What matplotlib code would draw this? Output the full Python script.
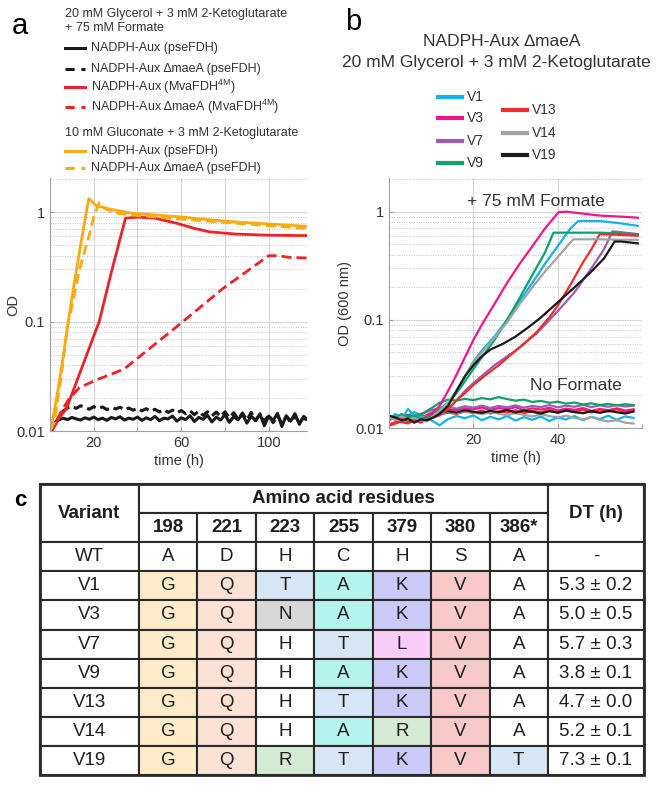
import matplotlib
matplotlib.use("Agg")
import matplotlib.pyplot as plt
import numpy as np
from matplotlib.lines import Line2D
from matplotlib.patches import Rectangle
from matplotlib.ticker import NullFormatter, LogLocator

plt.rcParams['font.family'] = ['Liberation Sans', 'DejaVu Sans']
plt.rcParams['mathtext.fontset'] = 'custom'
plt.rcParams['mathtext.rm'] = 'Liberation Sans'

W, H = 666, 785

# ---------------- panel a data (time h, OD) ----------------
a_orange_t = [0, 1, 3, 5, 8, 11, 14, 17.7, 21, 27, 37, 58, 82, 100, 118]
a_orange = [0.010, 0.012, 0.02, 0.035, 0.09, 0.22, 0.5, 1.33, 1.15, 1.07, 0.98, 0.91, 0.82, 0.78, 0.74]

a_orange_d_t = [0, 2, 5, 8, 11, 13.5, 16, 18, 20, 22.5, 25, 30, 40, 58, 82, 100, 118]
a_orange_d = [0.010, 0.012, 0.03, 0.09, 0.17, 0.3, 0.45, 0.62, 0.9, 1.22, 1.08, 0.98, 0.93, 0.87, 0.8, 0.75, 0.71]

a_red_t = [0, 2, 4, 7.5, 15, 22.5, 28, 34.5, 40, 48, 58, 66, 73, 85, 100, 118]
a_red = [0.0095, 0.011, 0.013, 0.016, 0.04, 0.1, 0.28, 0.88, 0.9, 0.88, 0.79, 0.71, 0.66, 0.63, 0.615, 0.61]

a_red_d_t = [0, 2, 5, 9, 13.5, 22.5, 28, 34, 58, 79, 100, 104, 110, 118]
a_red_d = [0.0095, 0.011, 0.015, 0.02, 0.025, 0.03, 0.033, 0.037, 0.09, 0.2, 0.4, 0.4, 0.385, 0.38]

a_black_t = np.arange(2, 119, 2)
a_black = [0.0118, 0.0126, 0.0131, 0.0127, 0.0133, 0.0129, 0.0126, 0.0132, 0.0128, 0.0134,
           0.0127, 0.0131, 0.0125, 0.0133, 0.0129, 0.0135, 0.0126, 0.0131, 0.0128, 0.0134,
           0.0125, 0.0132, 0.0127, 0.0136, 0.0124, 0.0131, 0.0129, 0.0137, 0.0123, 0.0132,
           0.0127, 0.0138, 0.0122, 0.0133, 0.0128, 0.0139, 0.0121, 0.0134, 0.0126, 0.0141,
           0.0120, 0.0135, 0.0127, 0.0142, 0.0118, 0.0136, 0.0125, 0.0143, 0.0112, 0.0137,
           0.0124, 0.0145, 0.0110, 0.0138, 0.0123, 0.0144, 0.0115, 0.0136, 0.0126]
a_black_d = [0.0112, 0.0135, 0.0152, 0.0163, 0.0168, 0.0161, 0.0170, 0.0164, 0.0158, 0.0167,
             0.0160, 0.0166, 0.0157, 0.0164, 0.0159, 0.0165, 0.0156, 0.0162, 0.0155, 0.0161,
             0.0153, 0.0160, 0.0151, 0.0158, 0.0149, 0.0157, 0.0148, 0.0155, 0.0146, 0.0154,
             0.0144, 0.0153, 0.0141, 0.0152, 0.0139, 0.0150, 0.0137, 0.0149, 0.0135, 0.0150,
             0.0132, 0.0147, 0.0128, 0.0146, 0.0126, 0.0148, 0.0124, 0.0143, 0.0122, 0.0141,
             0.0119, 0.0139, 0.0117, 0.0136, 0.0120, 0.0138, 0.0118, 0.0134, 0.0121]

# ---------------- panel b data ----------------
b_names = ["V1", "V3", "V7", "V9", "V13", "V14", "V19"]
b_colors = ["#12b4ea", "#f0168c", "#9a5fb0", "#0aa468", "#f52a2a", "#a3a3a3", "#1a1a1a"]

early_t = [0, 1.5, 3, 4.5, 6, 7.5, 9, 10.5]
b_form_t = {
    "V1": early_t + [12, 14, 16, 18, 20, 22, 25, 28, 31, 34, 37, 40, 43, 44.9, 50, 55, 59],
    "V3": early_t + [12, 14, 16, 18, 20, 22, 25, 28, 31, 34, 37, 40.2, 42, 45, 50, 55, 59],
    "V7": early_t + [12, 14, 16, 18, 20, 25, 30, 35, 40, 44, 48, 51, 53, 56, 59],
    "V9": early_t + [12, 14, 16, 18, 20, 22, 25, 28, 31, 34, 37, 39, 45, 50, 55, 59],
    "V13": early_t + [12, 14, 16, 18, 20, 23, 26, 29, 32, 35, 38, 40, 43, 46, 48, 50, 55, 59],
    "V14": early_t + [12, 14, 16, 18, 20, 22, 25, 28, 31, 34, 37, 40, 43.7, 50, 55, 59],
    "V19": early_t + [12, 14, 16, 18, 20, 22, 24, 27, 30, 33, 36, 40, 44, 48, 51, 53.5, 55, 59],
}
b_form = {
    "V1": [0.012, 0.0135, 0.012, 0.015, 0.013, 0.0125, 0.012, 0.013,
           0.0145, 0.017, 0.022, 0.03, 0.041, 0.052, 0.07, 0.1, 0.15, 0.22, 0.33, 0.48, 0.7, 0.82, 0.82, 0.78, 0.74],
    "V3": [0.012, 0.0125, 0.012, 0.013, 0.0125, 0.012, 0.0125, 0.014,
           0.016, 0.022, 0.031, 0.045, 0.065, 0.09, 0.14, 0.22, 0.33, 0.48, 0.7, 0.99, 1.0, 0.97, 0.92, 0.9, 0.88],
    "V7": [0.0125, 0.012, 0.013, 0.0125, 0.012, 0.0118, 0.0122, 0.0125,
           0.013, 0.015, 0.018, 0.022, 0.026, 0.038, 0.052, 0.075, 0.12, 0.18, 0.3, 0.45, 0.66, 0.64, 0.62],
    "V9": [0.013, 0.012, 0.0135, 0.0125, 0.013, 0.012, 0.0125, 0.013,
           0.015, 0.017, 0.021, 0.027, 0.035, 0.045, 0.065, 0.1, 0.16, 0.26, 0.42, 0.64, 0.64, 0.64, 0.63, 0.62],
    "V13": [0.0105, 0.011, 0.0115, 0.011, 0.0118, 0.0112, 0.012, 0.0125,
            0.0135, 0.015, 0.018, 0.021, 0.025, 0.031, 0.038, 0.048, 0.06, 0.077, 0.105, 0.135, 0.21, 0.34, 0.45, 0.62, 0.61, 0.6],
    "V14": [0.0125, 0.012, 0.0128, 0.012, 0.0124, 0.0118, 0.0115, 0.013,
            0.0145, 0.017, 0.022, 0.03, 0.04, 0.05, 0.068, 0.095, 0.14, 0.2, 0.28, 0.38, 0.556, 0.556, 0.55, 0.55],
    "V19": [0.013, 0.0125, 0.0118, 0.0122, 0.0112, 0.012, 0.0118, 0.0125,
            0.0135, 0.016, 0.022, 0.03, 0.038, 0.046, 0.053, 0.06, 0.07, 0.085, 0.105, 0.145, 0.2, 0.28, 0.37, 0.53, 0.53, 0.51],
}

# no formate controls, every 2 h
nf_t = np.arange(0, 60, 2)
b_noform = {
    "V9": [0.0125, 0.0122, 0.0131, 0.0128, 0.0136, 0.0152, 0.0171, 0.0183, 0.0179, 0.0186,
           0.0181, 0.0189, 0.0184, 0.0193, 0.0185, 0.0179, 0.0183, 0.0174, 0.0178, 0.0171,
           0.0175, 0.0168, 0.0172, 0.0165, 0.0169, 0.0163, 0.0167, 0.0162, 0.0166, 0.0163],
    "V3": [0.0121, 0.0128, 0.0124, 0.0131, 0.0127, 0.0138, 0.0143, 0.0149, 0.0146, 0.0152,
           0.0148, 0.0155, 0.0147, 0.0153, 0.0149, 0.0156, 0.0146, 0.0152, 0.0148, 0.0154,
           0.0145, 0.0151, 0.0147, 0.0153, 0.0144, 0.0150, 0.0146, 0.0152, 0.0145, 0.0149],
    "V7": [0.0126, 0.0121, 0.0133, 0.0129, 0.0137, 0.0146, 0.0152, 0.0158, 0.0151, 0.0159,
           0.0154, 0.0161, 0.0153, 0.0160, 0.0155, 0.0162, 0.0154, 0.0160, 0.0156, 0.0163,
           0.0155, 0.0161, 0.0157, 0.0164, 0.0156, 0.0162, 0.0157, 0.0163, 0.0158, 0.0161],
    "V13": [0.0108, 0.0115, 0.0112, 0.0121, 0.0118, 0.0127, 0.0133, 0.0139, 0.0135, 0.0142,
            0.0138, 0.0145, 0.0136, 0.0143, 0.0139, 0.0146, 0.0137, 0.0144, 0.0140, 0.0147,
            0.0138, 0.0145, 0.0141, 0.0148, 0.0139, 0.0146, 0.0142, 0.0149, 0.0140, 0.0146],
    "V19": [0.0128, 0.0123, 0.0119, 0.0126, 0.0122, 0.0131, 0.0137, 0.0143, 0.0139, 0.0146,
            0.0141, 0.0138, 0.0144, 0.0140, 0.0147, 0.0139, 0.0145, 0.0141, 0.0136, 0.0143,
            0.0139, 0.0145, 0.0140, 0.0137, 0.0143, 0.0138, 0.0144, 0.0140, 0.0136, 0.0142],
    "V1": [0.0124, 0.0132, 0.0127, 0.0140, 0.0129, 0.0118, 0.0106, 0.0121, 0.0129, 0.0123,
           0.0131, 0.0118, 0.0127, 0.0120, 0.0129, 0.0117, 0.0126, 0.0119, 0.0128, 0.0116,
           0.0125, 0.0120, 0.0129, 0.0118, 0.0127, 0.0121, 0.0130, 0.0119, 0.0128, 0.0124],
    "V14": [0.0119, 0.0124, 0.0121, 0.0128, 0.0125, 0.0131, 0.0136, 0.0141, 0.0137, 0.0143,
            0.0139, 0.0134, 0.0140, 0.0136, 0.0131, 0.0137, 0.0132, 0.0128, 0.0134, 0.0129,
            0.0125, 0.0130, 0.0124, 0.0120, 0.0126, 0.0119, 0.0115, 0.0118, 0.0112, 0.0110],
}

# ---------------- table data ----------------
positions = ["198", "221", "223", "255", "379", "380", "386*"]
variants = ["WT", "V1", "V3", "V7", "V9", "V13", "V14", "V19"]
residues = ["ADHCHSA", "GQTAKVA", "GQNAKVA", "GQHTLVA", "GQHAKVA", "GQHTKVA", "GQHARVA", "GQRTKVT"]
doubling = ["-", "5.3 ± 0.2", "5.0 ± 0.5", "5.7 ± 0.3", "3.8 ± 0.1", "4.7 ± 0.0", "5.2 ± 0.1", "7.3 ± 0.1"]
cell_colors = [
    {"G": "#fdebc9"},
    {"Q": "#fce1d5"},
    {"T": "#d7e6f4", "N": "#d8d8d8", "R": "#d5ead3"},
    {"A": "#b5f3ef", "T": "#d7e6f4"},
    {"K": "#cbcaf6", "L": "#f8cdf7", "R": "#d5ead3"},
    {"V": "#f8c9c9"},
    {"T": "#d7e6f4"},
]


def fx(x):
    return x / W


def fy(y):
    return 1 - y / H


fig = plt.figure(figsize=(W / 100, H / 100), dpi=100)


def style_log_axes(ax, xmax, xmajor, xlabels):
    ax.set_yscale("log")
    ax.set_ylim(0.01, 2.05)
    ax.set_xlim(0, xmax)
    ax.set_xticks(xmajor)
    ax.set_xticklabels(xlabels)
    ax.set_yticks([0.01, 0.1, 1])
    ax.set_yticklabels(["0.01", "0.1", "1"])
    ax.yaxis.set_minor_locator(LogLocator(base=10, subs=np.arange(2, 10)))
    ax.yaxis.set_minor_formatter(NullFormatter())
    ax.grid(True, which="major", color="#d6d6d6", lw=0.8, ls="-")
    ax.grid(True, which="minor", axis="y", color="#c4c4c4", lw=0.7, ls=(0, (1, 1.5)))
    ax.set_axisbelow(True)
    for s in ["top", "right"]:
        ax.spines[s].set_visible(False)
    for s in ["left", "bottom"]:
        ax.spines[s].set_color("#a0a0a0")
        ax.spines[s].set_linewidth(0.8)
    ax.tick_params(which="both", direction="in", color="#a0a0a0", labelsize=10.5,
                   labelcolor="#333333", length=3)
    ax.tick_params(which="minor", length=0)


# ---------------- panel a ----------------
ax_a = fig.add_axes([fx(50), fy(431), (307 - 50) / W, (431 - 178) / H])
ax_a.plot(a_black_t, a_black, color="#1a1a1a", lw=2.2)
ax_a.plot(a_black_t, a_black_d, color="#1a1a1a", lw=2.2, dashes=(3.2, 1.6))
ax_a.plot(a_red_d_t, a_red_d, color="#ee2228", lw=2, dashes=(3.6, 1.8))
ax_a.plot(a_red_t, a_red, color="#ee2228", lw=2)
ax_a.plot(a_orange_t, a_orange, color="#fbaa12", lw=2)
ax_a.plot(a_orange_d_t, a_orange_d, color="#fbaa12", lw=2, dashes=(3.6, 1.8))
style_log_axes(ax_a, 117.5, [20, 40, 60, 80, 100], ["20", "", "60", "", "100"])
ax_a.set_xlabel("time (h)", fontsize=10.5, color="#333333", labelpad=3)
ax_a.set_ylabel("OD", fontsize=10.5, color="#333333")
ax_a.yaxis.set_label_coords((20 - 50) / 257, 0.5)

# legend of panel a drawn by hand
leg_fs = 9


def leg_entry(x0, x1, xt, y, color, dashed, label, fs, lw=2.2):
    kw = dict(dashes=(3.0, 2.2)) if dashed else {}
    fig.add_artist(Line2D([fx(x0), fx(x1)], [fy(y), fy(y)], transform=fig.transFigure,
                          color=color, lw=lw, **kw))
    fig.text(fx(xt), fy(y), label, fontsize=fs, color="#333333", va="center", ha="left")


fig.text(fx(65), fy(14), "20 mM Glycerol + 3 mM 2-Ketoglutarate", fontsize=leg_fs, color="#333333", va="center")
fig.text(fx(65), fy(28), "+ 75 mM Formate", fontsize=leg_fs, color="#333333", va="center")
leg_entry(65, 85, 91, 48, "#1a1a1a", False, "NADPH-Aux (pseFDH)", leg_fs)
leg_entry(65, 85, 91, 69, "#1a1a1a", True, "NADPH-Aux ∆maeA (pseFDH)", leg_fs)
leg_entry(65, 85, 91, 87, "#ee2228", False, r"NADPH-Aux (MvaFDH$^{\mathrm{4M}}$)", leg_fs)
leg_entry(65, 85, 91, 107, "#ee2228", True, r"NADPH-Aux ∆maeA (MvaFDH$^{\mathrm{4M}}$)", leg_fs)
fig.text(fx(65), fy(133), "10 mM Gluconate + 3 mM 2-Ketoglutarate", fontsize=leg_fs, color="#333333", va="center")
leg_entry(65, 85, 91, 151, "#fbaa12", False, "NADPH-Aux (pseFDH)", leg_fs)
leg_entry(65, 85, 91, 168, "#fbaa12", True, "NADPH-Aux ∆maeA (pseFDH)", leg_fs)

fig.text(fx(20), fy(26), "a", fontsize=21, ha="center", va="center")

# ---------------- panel b ----------------
ax_b = fig.add_axes([fx(389), fy(428), (642 - 389) / W, (428 - 178) / H])
for name, col in zip(b_names, b_colors):
    ax_b.plot(nf_t, b_noform[name], color=col, lw=1.6)
for name, col in zip(b_names, b_colors):
    ax_b.plot(b_form_t[name], b_form[name], color=col, lw=1.6)
style_log_axes(ax_b, 60, [20, 40, 60], ["20", "40", ""])
ax_b.set_xlabel("time (h)", fontsize=10.5, color="#333333", labelpad=3)
ax_b.set_ylabel("OD (600 nm)", fontsize=10.5, color="#333333")
ax_b.yaxis.set_label_coords((352 - 389) / 253, 0.5)

fig.text(fx(467), fy(201), "+ 75 mM Formate", fontsize=12.5, color="#333333", va="center")
fig.text(fx(530), fy(386), "No Formate", fontsize=12.5, color="#333333", va="center")

fig.text(fx(353), fy(22), "b", fontsize=21, ha="center", va="center")
fig.text(fx(502), fy(42), "NADPH-Aux ∆maeA", fontsize=12.5, color="#333333", ha="center", va="center")
fig.text(fx(496), fy(63), "20 mM Glycerol + 3 mM 2-Ketoglutarate", fontsize=12.5, color="#333333",
         ha="center", va="center")

b_leg_y = {"V1": 97, "V3": 118, "V7": 141, "V9": 163, "V13": 110, "V14": 133, "V19": 155}
for name, col in zip(b_names, b_colors):
    if name in ("V1", "V3", "V7", "V9"):
        leg_entry(438, 462, 467, b_leg_y[name], col, False, name, 10, lw=3)
    else:
        leg_entry(503, 527, 532, b_leg_y[name], col, False, name, 10, lw=3)

# ---------------- panel c: table ----------------
ax_t = fig.add_axes([fx(40), fy(775), 604 / W, 291 / H])
ax_t.set_xlim(0, 604)
ax_t.set_ylim(291, 0)
ax_t.axis("off")

w_var, w_pos, w_dt = 99, 409 / 7, 96
rh = 29.1
x_pos = [w_var + i * w_pos for i in range(len(positions))]
x_dt = w_var + 7 * w_pos
edge = dict(edgecolor="#2a2a2a", lw=1.5, clip_on=False)
tfs = 13.5
tcol = "#1e1e1e"

# header
ax_t.add_patch(Rectangle((0, 0), w_var, 2 * rh, facecolor="white", **edge))
ax_t.text(w_var / 2, rh, "Variant", fontsize=tfs, weight="bold", ha="center", va="center", color=tcol)
ax_t.add_patch(Rectangle((w_var, 0), 7 * w_pos, rh, facecolor="white", **edge))
ax_t.text(w_var + 3.5 * w_pos, rh / 2, "Amino acid residues", fontsize=tfs, weight="bold",
          ha="center", va="center", color=tcol)
for x, p in zip(x_pos, positions):
    ax_t.add_patch(Rectangle((x, rh), w_pos, rh, facecolor="white", **edge))
    ax_t.text(x + w_pos / 2, 1.5 * rh, p, fontsize=tfs, weight="bold", ha="center", va="center", color=tcol)
ax_t.add_patch(Rectangle((x_dt, 0), w_dt, 2 * rh, facecolor="white", **edge))
ax_t.text(x_dt + w_dt / 2, rh, "DT (h)", fontsize=tfs, weight="bold", ha="center", va="center", color=tcol)

# body
for r, (v, res, dt) in enumerate(zip(variants, residues, doubling)):
    y = (r + 2) * rh
    ax_t.add_patch(Rectangle((0, y), w_var, rh, facecolor="white", **edge))
    ax_t.text(w_var / 2, y + rh / 2, v, fontsize=tfs, ha="center", va="center", color=tcol)
    for c, (x, aa) in enumerate(zip(x_pos, res)):
        fc = "white" if r == 0 else cell_colors[c].get(aa, "white")
        ax_t.add_patch(Rectangle((x, y), w_pos, rh, facecolor=fc, **edge))
        ax_t.text(x + w_pos / 2, y + rh / 2, aa, fontsize=tfs, ha="center", va="center", color=tcol)
    ax_t.add_patch(Rectangle((x_dt, y), w_dt, rh, facecolor="white", **edge))
    ax_t.text(x_dt + w_dt / 2, y + rh / 2, dt, fontsize=tfs, ha="center", va="center", color=tcol)

ax_t.add_patch(Rectangle((0, 0), 604, 10 * rh, facecolor="none", edgecolor="#2a2a2a", lw=2, clip_on=False))

fig.text(fx(20), fy(500), "c", fontsize=16, weight="bold", ha="center", va="center")

fig.savefig("out.png", dpi=100)
